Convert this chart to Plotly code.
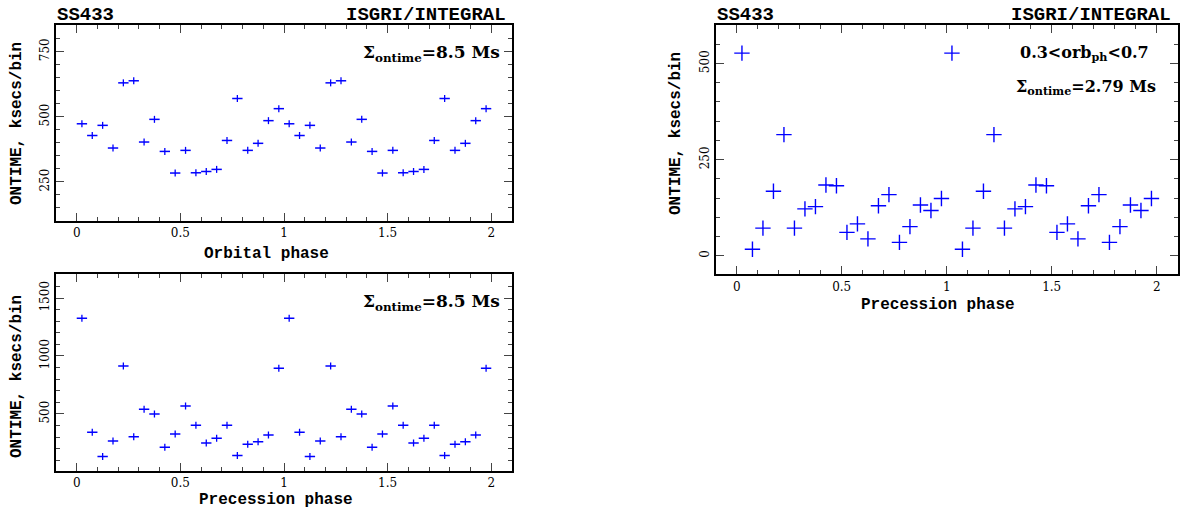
import plotly.graph_objects as go

# ---------------- data ----------------
phase = [0.025, 0.075, 0.125, 0.175, 0.225, 0.275, 0.325, 0.375, 0.425, 0.475,
         0.525, 0.575, 0.625, 0.675, 0.725, 0.775, 0.825, 0.875, 0.925, 0.975,
         1.025, 1.075, 1.125, 1.175, 1.225, 1.275, 1.325, 1.375, 1.425, 1.475,
         1.525, 1.575, 1.625, 1.675, 1.725, 1.775, 1.825, 1.875, 1.925, 1.975]

ontime_orbital = [473, 428, 467, 380, 630, 638, 403, 490, 367, 284,
                  371, 285, 290, 298, 409, 570, 371, 398, 485, 531,
                  473, 428, 467, 380, 630, 638, 403, 490, 367, 284,
                  371, 285, 290, 298, 409, 570, 371, 398, 485, 531]

ontime_precession = [1325, 342, 132, 267, 914, 302, 540, 500, 213, 327,
                     569, 402, 250, 290, 402, 141, 238, 259, 319, 894,
                     1325, 342, 132, 267, 914, 302, 540, 500, 213, 327,
                     569, 402, 250, 290, 402, 141, 238, 259, 319, 894]

ontime_prec_orbcut = [527, 17, 72, 168, 315, 72, 122, 128, 184, 182,
                      61, 83, 44, 130, 159, 35, 76, 132, 118, 149,
                      527, 17, 72, 168, 315, 72, 122, 128, 184, 182,
                      61, 83, 44, 130, 159, 35, 76, 132, 118, 149]

half_bin = 0.025

x_tickvals = [0, 0.5, 1, 1.5, 2]
x_ticktext = ["0", "0.5", "1", "1.5", "2"]
y1_tickvals = [250, 500, 750]
y2_tickvals = [500, 1000, 1500]
y3_tickvals = [0, 250, 500]

# ---------------- figure ----------------
W, H = 1182, 515
BLUE = "#0000ff"
SERIF = "DejaVu Serif"
MONO = "Liberation Mono"


def px(x):
    return x / W


def py(y):
    return 1 - y / H


fig = go.Figure()

for xa, ya, yvals in [("x", "y", ontime_orbital), ("x2", "y2", ontime_precession)]:
    fig.add_trace(go.Scatter(
        x=phase, y=yvals, xaxis=xa, yaxis=ya, mode="markers",
        marker=dict(symbol="line-ns", size=5, color=BLUE,
                    line=dict(color=BLUE, width=1.3)),
        error_x=dict(type="constant", value=half_bin, width=0,
                     thickness=1.5, color=BLUE),
        hoverinfo="x+y",
    ))

fig.add_trace(go.Scatter(
    x=phase, y=ontime_prec_orbcut, xaxis="x3", yaxis="y3", mode="markers",
    marker=dict(symbol="cross-thin", size=11, color=BLUE,
                line=dict(color=BLUE, width=1.4)),
    hoverinfo="x+y",
))

axis_common = dict(
    showline=True, linewidth=2, linecolor="black", mirror="allticks",
    ticks="inside", ticklen=8, tickwidth=1.4, tickcolor="#444",
    showgrid=False, zeroline=False,
    tickfont=dict(family=SERIF, size=12, color="black"),
)

xcommon = dict(axis_common, range=[-0.1, 2.1], tickmode="array",
               tickvals=x_tickvals, ticktext=x_ticktext,
               minor=dict(ticks="inside", ticklen=4, tickwidth=1.2,
                          tickcolor="#444", dtick=0.1, tick0=0))

fig.update_layout(
    width=W, height=H, margin=dict(l=0, r=0, t=0, b=0),
    paper_bgcolor="white", plot_bgcolor="white", showlegend=False,
    xaxis=dict(xcommon, domain=[px(56), px(512)], anchor="y"),
    yaxis=dict(axis_common, domain=[py(221), py(25)], anchor="x",
               range=[100, 852], tickmode="array", tickvals=y1_tickvals,
               tickangle=-90,
               minor=dict(ticks="inside", ticklen=4, tickwidth=1.2,
                          tickcolor="#444", dtick=50, tick0=0)),
    xaxis2=dict(xcommon, domain=[px(56), px(512)], anchor="y2"),
    yaxis2=dict(axis_common, domain=[py(470.7), py(274.3)], anchor="x2",
                range=[10, 1705], tickmode="array", tickvals=y2_tickvals,
                tickangle=-90,
                minor=dict(ticks="inside", ticklen=4, tickwidth=1.2,
                           tickcolor="#444", dtick=100, tick0=0)),
    xaxis3=dict(xcommon, domain=[px(715.7), px(1177.7)], anchor="y3"),
    yaxis3=dict(axis_common, domain=[py(274.3), py(25)], anchor="x3",
                range=[-48, 600], tickmode="array", tickvals=y3_tickvals,
                tickangle=-90,
                minor=dict(ticks="inside", ticklen=4, tickwidth=1.2,
                           tickcolor="#444", dtick=50, tick0=0)),
)

ann = []


def add_text(text, x, y, xanchor="center", yanchor="middle", size=15,
             angle=0, bold=True, family=SERIF):
    t = f"<b>{text}</b>" if bold else text
    ann.append(dict(text=t, x=px(x), y=py(y), xref="paper", yref="paper",
                    xanchor=xanchor, yanchor=yanchor, showarrow=False,
                    textangle=angle,
                    font=dict(family=family, size=size, color="black")))


# top-left
add_text("SS433", 55, 15, xanchor="left", size=19, family=MONO)
add_text("ISGRI/INTEGRAL", 508, 15, xanchor="right", size=19, family=MONO)
add_text("Σ<sub>ontime</sub>=8.5 Ms", 502, 53, xanchor="right", size=17)
add_text("Orbital phase", 266, 254, size=16, family=MONO)
add_text("ONTIME, ksecs/bin", 17, 124, size=16, angle=-90, family=MONO)

# bottom-left
add_text("Σ<sub>ontime</sub>=8.5 Ms", 502, 302, xanchor="right", size=17)
add_text("Precession phase", 276, 500, size=16, family=MONO)
add_text("ONTIME, ksecs/bin", 17, 377, size=16, angle=-90, family=MONO)

# right
add_text("SS433", 715, 15, xanchor="left", size=19, family=MONO)
add_text("ISGRI/INTEGRAL", 1173, 15, xanchor="right", size=19, family=MONO)
add_text("0.3&lt;orb<sub>ph</sub>&lt;0.7", 1151, 53, xanchor="right", size=16)
add_text("Σ<sub>ontime</sub>=2.79 Ms", 1158, 88, xanchor="right", size=16)
add_text("Precession phase", 938, 305, size=16, family=MONO)
add_text("ONTIME, ksecs/bin", 676, 134, size=16, angle=-90, family=MONO)

fig.update_layout(annotations=ann)

fig.write_html("out.html")
